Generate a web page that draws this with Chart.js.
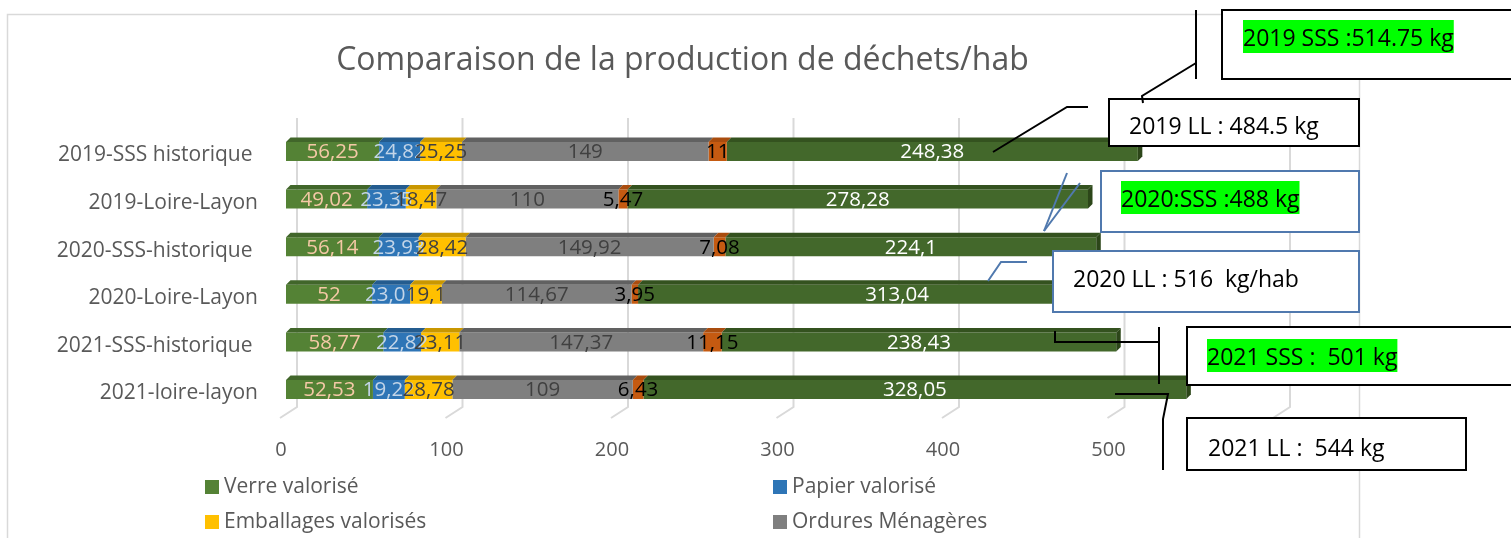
<!DOCTYPE html>
<html><head><meta charset="utf-8">
<script src="https://cdn.jsdelivr.net/npm/chart.js@4.4.1/dist/chart.umd.min.js"></script>
<style>html,body{margin:0;padding:0;background:#fff;overflow:hidden}canvas{display:block}</style>
</head><body>
<canvas id="c" width="1511" height="538" style="width:1511px;height:538px"></canvas>
<script>
// ---------- DATA ----------
const title = 'Comparaison de la production de déchets/hab';
const categories = ['2019-SSS historique ', '2019-Loire-Layon', '2020-SSS-historique ', '2020-Loire-Layon', '2021-SSS-historique ', '2021-loire-layon'];
const seriesNames = ['Verre valorisé', 'Papier valorisé', 'Emballages valorisés', 'Ordures Ménagères', 'Textiles', 'Déchèterie'];
const verre      = [56.25, 49.02, 56.14, 52, 58.77, 52.53];
const papier     = [24.82, 23.35, 23.93, 23.01, 22.82, 19.22];
const emballages = [25.25, 18.47, 28.42, 19.1, 23.11, 28.78];
const ordures    = [149, 110, 149.92, 114.67, 147.37, 109];
const textiles   = [11, 5.47, 7.08, 3.95, 11.15, 6.43];
const decheterie = [248.38, 278.28, 224.1, 313.04, 238.43, 328.05];
const xTicks = [0, 100, 200, 300, 400, 500, 600];
const calloutTexts = ['2019 SSS :514.75 kg', '2019 LL : 484.5 kg', '2020:SSS :488 kg', '2020 LL : 516  kg/hab', '2021 SSS :  501 kg', '2021 LL :  544 kg'];

// ---------- STYLE ----------
const FONT = '"Open Sans", "Noto Sans", sans-serif';
const fills = ['#548235', '#2E75B6', '#FFC000', '#7F7F7F', '#C55A11', '#43682B'];
const tops  = ['#41662A', '#245C8F', '#C99700', '#616161', '#A94C0E', '#34521F'];
const labelColors = ['#F4C9A6', '#C3D5E8', '#404040', '#404040', '#000000', '#FFFFFF'];
const TXT = '#595959';
const seriesValues = [verre, papier, emballages, ordures, textiles, decheterie];

function fmt(v) { return String(v).replace('.', ','); }

const backdrop = {
  id: 'backdrop',
  beforeDatasetsDraw(chart) {
    const c = chart.ctx, xs = chart.scales.x, ys = chart.scales.y;
    c.save();
    c.strokeStyle = '#D9D9D9'; c.lineWidth = 1.5;
    c.strokeRect(7.5, 14.5, 1352, 600);
    c.fillStyle = TXT; c.font = '32px ' + FONT; c.textAlign = 'center'; c.textBaseline = 'alphabetic';
    c.fillText(title, 682.5, 70);
    c.strokeStyle = '#D9D9D9'; c.lineWidth = 2;
    xTicks.forEach(v => {
      const px = xs.getPixelForValue(v);
      c.beginPath();
      c.moveTo(px + 11, 118); c.lineTo(px + 11, 407); c.lineTo(px - 6, 418);
      c.stroke();
    });
    c.fillStyle = TXT; c.font = '20px ' + FONT; c.textAlign = 'center'; c.textBaseline = 'middle';
    xTicks.forEach(v => c.fillText(String(v), xs.getPixelForValue(v) - 5, 450));
    c.font = '21px ' + FONT; c.textAlign = 'right';
    chart.data.labels.forEach((l, i) => c.fillText(l, 258, ys.getPixelForValue(i) + 4));
    c.font = '21px ' + FONT; c.textAlign = 'left';
    chart.data.datasets.forEach((d, i) => {
      const col = i % 2, row = Math.floor(i / 2);
      const lx = col === 0 ? 205 : 773, ly = 487 + row * 35;
      c.fillStyle = d.backgroundColor; c.fillRect(lx, ly - 7, 14, 14);
      c.fillStyle = TXT; c.fillText(d.label, lx + 19, ly);
    });
    c.restore();
  },
  afterDatasetsDraw(chart) {
    const c = chart.ctx, n = chart.data.datasets.length, d = 4.5;
    c.save();
    for (let i = 0; i < n; i++) {
      chart.getDatasetMeta(i).data.forEach(bar => {
        const p = bar.getProps(['x', 'y', 'base', 'height'], true);
        const top = p.y - p.height / 2, bot = p.y + p.height / 2;
        c.fillStyle = tops[i];
        c.beginPath();
        c.moveTo(p.base, top); c.lineTo(p.x, top); c.lineTo(p.x + d, top - d); c.lineTo(p.base + d, top - d);
        c.closePath(); c.fill();
        if (i === n - 1) {
          c.fillStyle = '#2C4619';
          c.beginPath();
          c.moveTo(p.x, top); c.lineTo(p.x + d, top - d); c.lineTo(p.x + d, bot - d); c.lineTo(p.x, bot);
          c.closePath(); c.fill();
        }
      });
    }
    c.font = '20.5px ' + FONT; c.textAlign = 'center'; c.textBaseline = 'middle';
    for (let i = 0; i < n; i++) {
      const ds = chart.data.datasets[i];
      chart.getDatasetMeta(i).data.forEach((bar, j) => {
        const p = bar.getProps(['x', 'y', 'base'], true);
        c.fillStyle = labelColors[i];
        c.fillText(fmt(ds.data[j]), (p.x + p.base) / 2, p.y + 1);
      });
    }
    c.restore();
  },
  afterDraw(chart) {
    const c = chart.ctx;
    c.save();
    const BLUE = '#5079AE';
    const boxes = [
      {x: 1222, y: 10, w: 300, h: 69, color: '#000', tx: 1243, ty: 46, hl: true},
      {x: 1109, y: 99, w: 250, h: 47, color: '#000', tx: 1129, ty: 134, hl: false},
      {x: 1101, y: 171, w: 258, h: 61, color: BLUE, tx: 1121, ty: 207, hl: true},
      {x: 1053, y: 251, w: 306, h: 61, color: BLUE, tx: 1073, ty: 287, hl: false},
      {x: 1187, y: 327, w: 330, h: 58, color: '#000', tx: 1207, ty: 365, hl: true},
      {x: 1187, y: 418, w: 279, h: 52, color: '#000', tx: 1208, ty: 456, hl: false}
    ];
    c.font = '23px ' + FONT; c.textAlign = 'left'; c.textBaseline = 'alphabetic';
    boxes.forEach((b, i) => {
      c.fillStyle = '#FFFFFF'; c.fillRect(b.x, b.y, b.w, b.h);
      c.strokeStyle = b.color; c.lineWidth = 2; c.strokeRect(b.x, b.y, b.w, b.h);
      const t = calloutTexts[i];
      if (b.hl) {
        const w = c.measureText(t).width;
        c.fillStyle = '#00FF00'; c.fillRect(b.tx, b.ty - 26, w, 33);
      }
      c.fillStyle = '#000'; c.fillText(t, b.tx, b.ty);
    });
    const poly = (pts, color) => {
      c.strokeStyle = color; c.lineWidth = 2; c.beginPath();
      c.moveTo(pts[0][0], pts[0][1]);
      for (let k = 1; k < pts.length; k++) c.lineTo(pts[k][0], pts[k][1]);
      c.stroke();
    };
    poly([[1196, 10], [1196, 79]], '#000');
    poly([[1196, 63], [1142, 96], [1143, 103]], '#000');
    poly([[993, 152], [1067, 107], [1088, 107]], '#000');
    poly([[1067, 173], [1044, 231]], BLUE);
    poly([[1080, 183], [1044, 231]], BLUE);
    poly([[1027, 262], [1001, 262], [988, 281]], BLUE);
    poly([[1055, 331], [1055, 342], [1159, 342]], '#000');
    poly([[1159, 327], [1159, 384]], '#000');
    poly([[1115, 394], [1168, 394], [1163, 419], [1163, 470]], '#000');
    c.restore();
  }
};

new Chart(document.getElementById('c').getContext('2d'), {
  type: 'bar',
  data: {
    labels: categories,
    datasets: seriesValues.map((d, i) => ({
      label: seriesNames[i], data: d, backgroundColor: fills[i], borderWidth: 0,
      barPercentage: 0.4, categoryPercentage: 1
    }))
  },
  options: {
    responsive: false, animation: false, devicePixelRatio: 1, indexAxis: 'y',
    layout: {padding: {left: 286, right: 232, top: 127.7, bottom: 124.7}},
    scales: {
      x: {display: false, stacked: true, min: 0, max: 600},
      y: {display: false, stacked: true}
    },
    plugins: {legend: {display: false}, tooltip: {enabled: false}}
  },
  plugins: [backdrop]
});
</script>
</body></html>
